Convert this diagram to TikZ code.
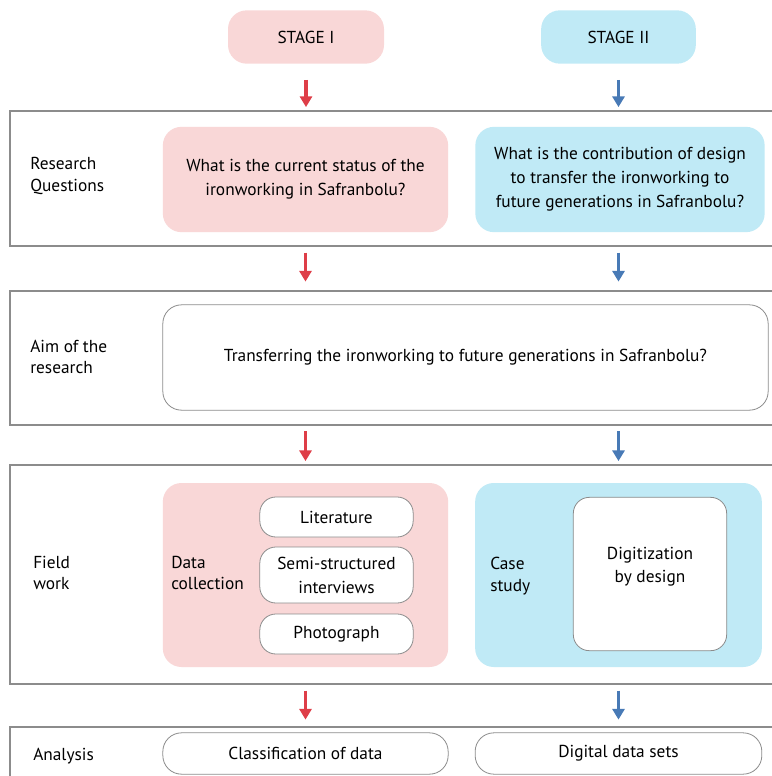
\documentclass[tikz,border=0pt]{standalone}
\usepackage{fontspec}
\setmainfont{PT Sans}
\usetikzlibrary{arrows.meta, calc}
\definecolor{mypink}{RGB}{249, 215, 215}
\definecolor{mycyan}{RGB}{192, 234, 246}
\definecolor{myred}{RGB}{222, 62, 72}
\definecolor{myarrowblue}{RGB}{72, 122, 182}
\definecolor{mygray}{RGB}{140, 140, 140}
\tikzstyle{row} = [draw=mygray, line width=1.1, fill=white]
\tikzstyle{pink} = [fill=mypink, rounded corners=14, align=center,
    font=\fontsize{13}{18}\selectfont]
\tikzstyle{cyan} = [fill=mycyan, rounded corners=14, align=center,
    font=\fontsize{13}{18}\selectfont]
\tikzstyle{white} = [draw=mygray, line width=0.6, fill=white,
    rounded corners=12, align=center, font=\fontsize{13}{17}\selectfont]
\tikzstyle{label} = [anchor=west, align=left, inner sep=0,
    font=\fontsize{13}{16}\selectfont]
\tikzstyle{redarrow} = [-{Triangle[width=9, length=8]}, line width=2.3, myred]
\tikzstyle{bluearrow} = [-{Triangle[width=9, length=8]}, line width=2.3, myarrowblue]

\begin{document}
\begin{tikzpicture}[x=0.75pt, y=-0.75pt]
    \useasboundingbox (0,0) rectangle (772,776);
    \clip (0,0) rectangle (772,776);

    % 1. Place the stages
    \node[pink, minimum width=117, minimum height=40] (s1) at (306,37) {STAGE I};
    \node[cyan, minimum width=116, minimum height=40] (s2) at (618.5,37) {STAGE II};

    % 2. Place the rows
    %    x = left edge 10, right edge runs past the page
    \node[row, minimum width=585, minimum height=101] (rq) at (400,178.5) {};
    \node[row, minimum width=585, minimum height=100.5] (aim) at (400,358) {};
    \node[row, minimum width=585, minimum height=164] (fw) at (400,574.5) {};
    \node[row, minimum width=585, minimum height=60] (an) at (400,767) {};

    % 3. Row titles
    \node[label] (rqt) at (30,176) {Research\\Questions};
    \node[label] (aimt) at (30,357) {Aim of the\\research};
    \node[label] (fwt) at (33,573) {Field\\work};
    \node[label] (ant) at (33,756) {Analysis};

    % 4. Research questions
    \node[pink, minimum width=214, minimum height=79] (q1) at (305.5,179.5)
        {What is the current status of the\\ironworking in Safranbolu?};
    \node[cyan, minimum width=217, minimum height=79] (q2) at (620,179.5)
        {What is the contribution of design\\to transfer the ironworking to\\future generations in Safranbolu?};

    % 5. Aim
    \node[white, rounded corners=14, minimum width=454, minimum height=79] (goal) at (465.5,357.5)
        {Transferring the ironworking to future generations in Safranbolu?};

    % 6. Field work
    \node[pink, minimum width=214, minimum height=138] (dc) at (305.5,575) {};
    \node[cyan, minimum width=215, minimum height=138] (cs) at (618.5,575) {};
    \node[label] (dct) at (171,573) {Data\\collection};
    \node[label] (cst) at (490,576) {Case\\study};
    \node[white, minimum width=115, minimum height=30] (lit) at (336.5,517) {Literature};
    \node[white, minimum width=115, minimum height=42, font=\fontsize{13}{18}\selectfont] (semi) at (336.5,575) {Semi-structured\\interviews};
    \node[white, minimum width=115, minimum height=30] (photo) at (336.5,634) {Photograph};
    \node[white, minimum width=115, minimum height=115, text depth=14] (dig) at (650,574)
        {Digitization\\by design};

    % 7. Analysis
    \node[white, rounded corners=14, minimum width=214, minimum height=31] (cls) at (305.5,753.5)
        {Classification of data};
    \node[white, rounded corners=14, minimum width=215, minimum height=31] (dds) at (618.5,753.5)
        {Digital data sets};

    % 8. Draw connections
    \draw[redarrow, shorten <=12, shorten >=2.5] (s1.south) -- (s1.south |- rq.north);
    \draw[bluearrow, shorten <=12, shorten >=2.5] (s2.south) -- (s2.south |- rq.north);
    \draw[redarrow, shorten <=4.5, shorten >=6.5] (q1.south |- rq.south) -- (q1.south |- aim.north);
    \draw[bluearrow, shorten <=4.5, shorten >=6.5] (s2.south |- rq.south) -- (s2.south |- aim.north);
    \draw[redarrow, shorten <=4, shorten >=2.5] (q1.south |- aim.south) -- (q1.south |- fw.north);
    \draw[bluearrow, shorten <=4, shorten >=2.5] (s2.south |- aim.south) -- (s2.south |- fw.north);
    \draw[redarrow, shorten <=4.5, shorten >=5] (dc.south |- fw.south) -- (dc.south |- an.north);
    \draw[bluearrow, shorten <=4.5, shorten >=5] (s2.south |- fw.south) -- (s2.south |- an.north);

\end{tikzpicture}
\end{document}
